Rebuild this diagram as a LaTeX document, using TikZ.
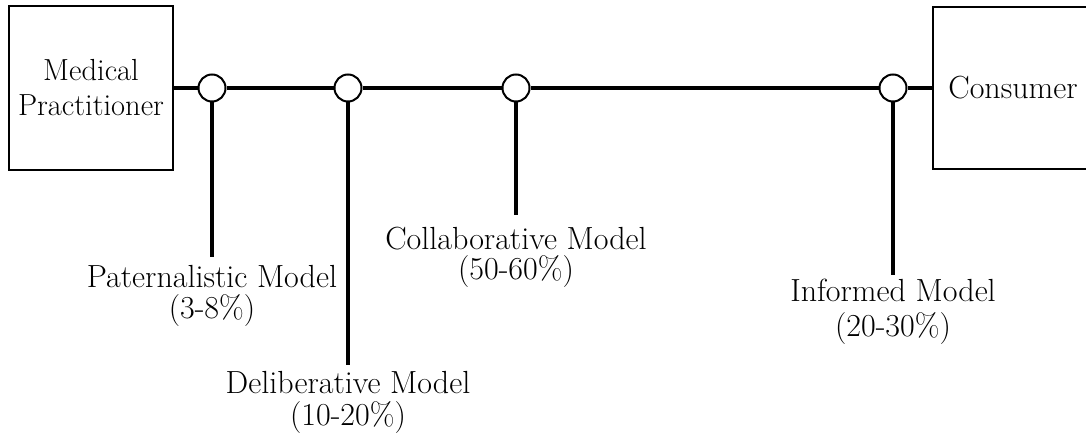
\documentclass[tikz,border=0pt]{standalone}
\usepackage{fontspec}
\begin{document}
\begin{tikzpicture}[x=1pt,y=-1pt,
  party/.style={draw,line width=2pt,inner sep=0pt,align=center,
    font=\fontsize{30.5}{35}\selectfont},
  hub/.style={circle,draw,line width=2pt,fill=white,minimum size=27pt,inner sep=0pt},
  spine/.style={line width=4pt},
  stem/.style={line width=3.5pt},
  lbl/.style={anchor=base,inner sep=0pt,font=\fontsize{32}{38}\selectfont}]
\useasboundingbox (0,0) rectangle (1086,433);
\clip (0,0) rectangle (1086,433);

% the two parties at either end of the spectrum
\node[party,minimum width=164pt,minimum height=164pt] (mp) at (91,88)
  {Medical\\Practitioner};
\node[party,minimum width=180pt,minimum height=162pt] (cons) at (1023,88) {};
\node[lbl] (ctext) at (1013,99) {Consumer};

% decision-making models along the spectrum
\node[hub] (h1) at (212,88) {};
\node[hub] (h2) at (348,88) {};
\node[hub] (h3) at (516,88) {};
\node[hub] (h4) at (893,88) {};

\draw[spine] (mp.east) -- (h1) -- (h2) -- (h3) -- (h4) -- (cons.west);

% stems down to the model labels
\coordinate (e1) at (212,257);
\coordinate (e2) at (348,365);
\coordinate (e3) at (516,215);
\coordinate (e4) at (893,275);
\draw[stem] (h1.south) -- (e1);
\draw[stem] (h2.south) -- (e2);
\draw[stem] (h3.south) -- (e3);
\draw[stem] (h4.south) -- (e4);

\node[lbl] (pat)  at (212,287) {Paternalistic Model};
\node[lbl] (patp) at (212,318) {(3-8\%)};
\node[lbl] (del)  at (348,393) {Deliberative Model};
\node[lbl] (delp) at (348,425) {(10-20\%)};
\node[lbl] (col)  at (516,249) {Collaborative Model};
\node[lbl] (colp) at (516,279) {(50-60\%)};
\node[lbl] (inf)  at (893,301) {Informed Model};
\node[lbl] (infp) at (893,336) {(20-30\%)};
\end{tikzpicture}
\end{document}
